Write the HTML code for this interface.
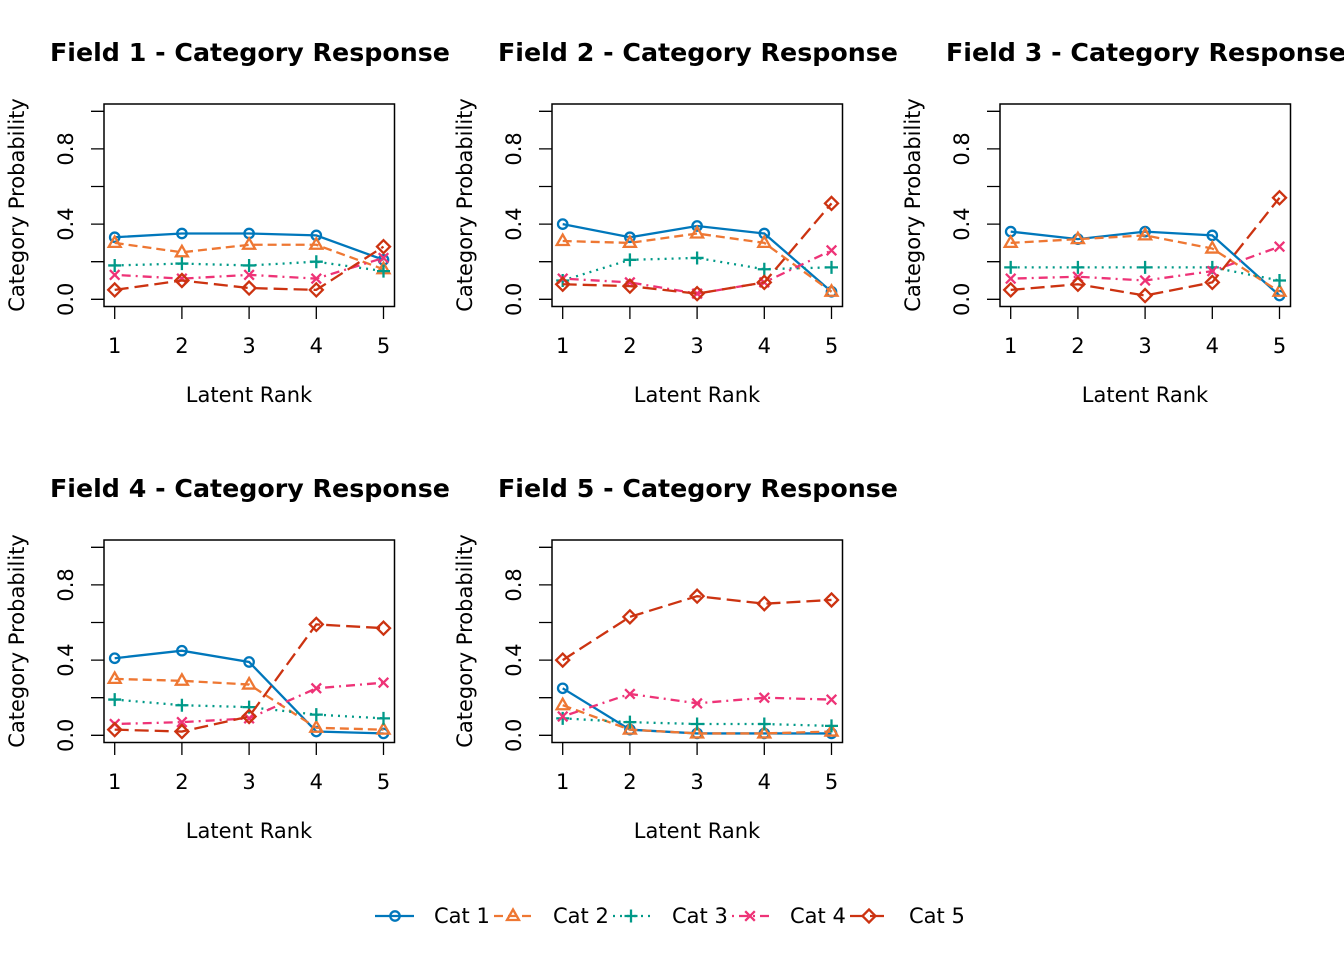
<!DOCTYPE html>
<html><head><meta charset="utf-8"><style>
html,body{margin:0;padding:0;background:#fff}
</style></head><body>
<svg id="s" width="1344" height="960" viewBox="0 0 1344 960" xmlns="http://www.w3.org/2000/svg" font-family="DejaVu Sans, Liberation Sans, sans-serif">
<defs>
<g id="frame">
<rect x="104" y="104" width="290.5" height="202.5" fill="none" stroke="#000" stroke-width="1.5"/>
<path d="M104 299.3H91M104 261.7H91M104 224.1H91M104 186.5H91M104 148.9H91M104 111.3H91M114.7 306.5V319M181.9 306.5V319M249.1 306.5V319M316.3 306.5V319M383.5 306.5V319" stroke="#000" stroke-width="1.3" fill="none"/>
</g>
<g id="labs" style="font-size:21px">
<text x="249" y="402" text-anchor="middle" style="font-size:21px">Latent Rank</text>
<text transform="translate(24,205) rotate(-90)" text-anchor="middle" style="font-size:21px">Category Probability</text>
<text transform="translate(73,299.3) rotate(-90)" text-anchor="middle" style="font-size:21px">0.0</text>
<text transform="translate(73,224.1) rotate(-90)" text-anchor="middle" style="font-size:21px">0.4</text>
<text transform="translate(73,148.9) rotate(-90)" text-anchor="middle" style="font-size:21px">0.8</text>
<text x="114.7" y="353" text-anchor="middle" style="font-size:21px">1</text><text x="181.9" y="353" text-anchor="middle" style="font-size:21px">2</text><text x="249.1" y="353" text-anchor="middle" style="font-size:21px">3</text><text x="316.3" y="353" text-anchor="middle" style="font-size:21px">4</text><text x="383.5" y="353" text-anchor="middle" style="font-size:21px">5</text>
</g>
</defs>
<g id="g0"></g>
<g>
<g transform="translate(0,0)"><text x="50" y="61" style="font-size:25.3px;font-weight:bold">Field 1 - Category Response</text><use href="#labs"/></g>
<g transform="translate(448,0)"><text x="50" y="61" style="font-size:25.3px;font-weight:bold">Field 2 - Category Response</text><use href="#labs"/></g>
<g transform="translate(896,0)"><text x="50" y="61" style="font-size:25.3px;font-weight:bold">Field 3 - Category Response</text><use href="#labs"/></g>
<g transform="translate(0,436)"><text x="50" y="61" style="font-size:25.3px;font-weight:bold">Field 4 - Category Response</text><use href="#labs"/></g>
<g transform="translate(448,436)"><text x="50" y="61" style="font-size:25.3px;font-weight:bold">Field 5 - Category Response</text><use href="#labs"/></g>
</g>
<g>
<text x="434" y="923" style="font-size:21px">Cat 1</text>
<text x="553" y="923" style="font-size:21px">Cat 2</text>
<text x="672" y="923" style="font-size:21px">Cat 3</text>
<text x="790" y="923" style="font-size:21px">Cat 4</text>
<text x="909" y="923" style="font-size:21px">Cat 5</text>
</g>
</svg>
<script>
var NS="http://www.w3.org/2000/svg",g=document.getElementById("g0");
var cols=["#0077BB","#EE7733","#009988","#EE3377","#CC3311"];
var dash=["","9,5","2,5","2,5,9,5","14,6"];
var D=[
[[.33,.35,.35,.34,.21],[.30,.25,.29,.29,.16],[.18,.19,.18,.20,.15],[.13,.11,.13,.11,.22],[.05,.10,.06,.05,.28]],
[[.40,.33,.39,.35,.04],[.31,.30,.35,.30,.04],[.10,.21,.22,.16,.17],[.11,.09,.03,.09,.26],[.08,.07,.03,.09,.51]],
[[.36,.32,.36,.34,.02],[.30,.32,.34,.27,.04],[.17,.17,.17,.17,.10],[.11,.12,.10,.15,.28],[.05,.08,.02,.09,.54]],
[[.41,.45,.39,.02,.01],[.30,.29,.27,.04,.03],[.19,.16,.15,.11,.09],[.06,.07,.09,.25,.28],[.03,.02,.10,.59,.57]],
[[.25,.03,.01,.01,.01],[.16,.03,.01,.01,.02],[.09,.07,.06,.06,.05],[.10,.22,.17,.20,.19],[.40,.63,.74,.70,.72]]];
var off=[[0,0],[448,0],[896,0],[0,436],[448,436]];
function el(n,a,p){var e=document.createElementNS(NS,n);for(var k in a)e.setAttribute(k,a[k]);(p||g).appendChild(e);return e;}
function mk(c,x,y,p){var s={stroke:cols[c],"stroke-width":2.3,fill:"none"};var a;
if(c==0){a=Object.assign({cx:x,cy:y,r:4.7},s);el("circle",a,p);}
else if(c==1){a=Object.assign({d:"M"+x+" "+(y-6.5)+"L"+(x+6)+" "+(y+4)+"L"+(x-6)+" "+(y+4)+"Z"},s);el("path",a,p);}
else if(c==2){a=Object.assign({d:"M"+(x-6.5)+" "+y+"H"+(x+6.5)+"M"+x+" "+(y-6.5)+"V"+(y+6.5)},s);el("path",a,p);}
else if(c==3){a=Object.assign({d:"M"+(x-4.8)+" "+(y-4.8)+"L"+(x+4.8)+" "+(y+4.8)+"M"+(x-4.8)+" "+(y+4.8)+"L"+(x+4.8)+" "+(y-4.8)},s);el("path",a,p);}
else {a=Object.assign({d:"M"+x+" "+(y-6.5)+"L"+(x+6.5)+" "+y+"L"+x+" "+(y+6.5)+"L"+(x-6.5)+" "+y+"Z"},s);el("path",a,p);}}
for(var f=0;f<5;f++){var G=el("g",{transform:"translate("+off[f][0]+","+off[f][1]+")"});
el("use",{href:"#frame"},G);
for(var c=0;c<5;c++){var pts=[];for(var i=0;i<5;i++){pts.push([114.7+67.2*i,299.3-188*D[f][c][i]]);}
el("polyline",{points:pts.map(function(p){return p.join(",")}).join(" "),fill:"none",stroke:cols[c],"stroke-width":2.3,"stroke-dasharray":dash[c]},G);
pts.forEach(function(p){mk(c,p[0],p[1],G);});}}
var lx=[[375,414,395],[494,534,513],[613,650,631],[732,771,750],[850,888,869]];
for(var c=0;c<5;c++){el("line",{x1:lx[c][0],x2:lx[c][1],y1:916,y2:916,stroke:cols[c],"stroke-width":2.3,"stroke-dasharray":dash[c]});mk(c,lx[c][2],916);}
</script>
</body></html>
